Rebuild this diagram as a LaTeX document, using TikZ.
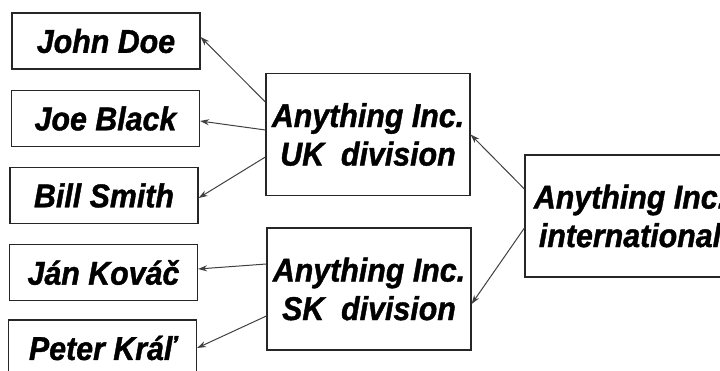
\documentclass[tikz,border=0pt]{standalone}
\usepackage{fontspec}
\setmainfont{Liberation Sans}
\newfontfamily\boxfont[FakeStretch=0.92,FakeBold=1.2]{Liberation Sans}
\usetikzlibrary{arrows.meta}
\tikzset{box/.style={draw=black!85, line width=1.2pt, inner sep=0pt, align=center, font=\boxfont\bfseries\itshape\fontsize{33}{38.5}\selectfont},
         person/.style={box, minimum width=188pt, minimum height=56pt},
         division/.style={box, minimum width=204pt, minimum height=122pt},
         link/.style={draw=black!75, line width=1pt, -{Stealth[length=9pt,width=6pt]}}}

\begin{document}
\begin{tikzpicture}[x=1pt,y=-1pt]
       \useasboundingbox (0,0) rectangle (720,371);
       \clip (0,0) rectangle (720,371);
        \node[person] (john)  at (106,41)    {John Doe};
        \node[person] (joe)   at (105.5,118.5) {Joe Black};
        \node[person] (bill)  at (104,195.5) {Bill Smith};
        \node[person] (jan)   at (103.5,272.5) {Ján Kováč};
        \node[person] (peter) at (102.5,348) {Peter Kráľ};
        \node[division] (uk)  at (368,134.5) {Anything Inc.\\UK~~division};
        \node[division] (sk)  at (369,289)   {Anything Inc.\\SK~~division};
        \node[division, minimum width=210pt] (intl) at (630,216) {Anything Inc.\\international};
        \draw[link] ([yshift=32.5pt]uk.west) -- ([yshift=4pt]john.east);
        \draw[link] ([yshift=4.5pt]uk.west)  -- ([yshift=-2.5pt]joe.east);
        \draw[link] ([yshift=-22.5pt]uk.west) -- ([yshift=-2.5pt]bill.east);
        \draw[link] ([yshift=25pt]sk.west)   -- ([yshift=3.5pt]jan.east);
        \draw[link] ([yshift=-27pt]sk.west)  -- (peter.east);
        \draw[link] ([yshift=27pt]intl.west) -- (uk.east);
        \draw[link] ([yshift=-12pt]intl.west) -- ([yshift=-15pt]sk.east);
\end{tikzpicture}
\end{document}
